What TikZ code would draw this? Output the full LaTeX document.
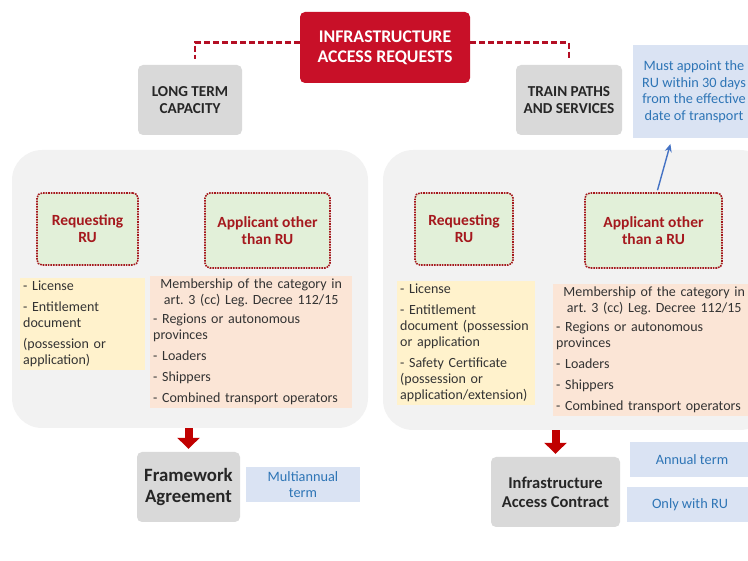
\documentclass[tikz,border=0pt]{standalone}
\usepackage{fontspec}
\setmainfont{Carlito}
\usetikzlibrary{arrows.meta}
\definecolor{titlered}{RGB}{200,16,40}
\definecolor{arrowred}{RGB}{192,0,0}
\definecolor{darkred}{RGB}{165,25,30}
\definecolor{boxgray}{RGB}{217,217,217}
\definecolor{panelgray}{RGB}{242,242,242}
\definecolor{softgreen}{RGB}{226,240,217}
\definecolor{softyellow}{RGB}{255,242,204}
\definecolor{softorange}{RGB}{251,229,214}
\definecolor{softblue}{RGB}{218,227,243}
\definecolor{notetext}{RGB}{46,117,182}
\definecolor{arrowblue}{RGB}{68,114,196}

\begin{document}
\begin{tikzpicture}[x=1pt, y=-1pt,
  graybox/.style={rounded corners=5pt, fill=boxgray, align=center, text=black!85,
    font=\bfseries\fontsize{15.2}{17}\selectfont},
  panel/.style={rounded corners=30pt, fill=panelgray},
  rolebox/.style={rounded corners=5pt, fill=softgreen, draw=darkred, densely dotted,
    line width=1.6pt, align=center, text=darkred, font=\bfseries\fontsize{15.5}{17}\selectfont},
  listbox/.style={anchor=north west, inner sep=3pt, align=left, text=black!80,
    font=\fontsize{14}{16}\selectfont},
  notebox/.style={fill=softblue, align=center, text=notetext,
    font=\fontsize{14.3}{16.5}\selectfont},
  dashline/.style={titlered!90!black, line width=2.4pt, dash pattern=on 6pt off 3pt, shorten >=6pt},
  bigarrow/.style={draw=arrowred, line width=8pt, shorten >=3pt,
    -{Triangle[length=11pt,width=22pt]}},
]
\useasboundingbox (0,0) rectangle (748,561);

\node[fill=titlered, rounded corners=5pt, minimum width=170pt, minimum height=71pt,
  align=center, text=white, font=\bfseries\fontsize{17.8}{20}\selectfont]
  (title) at (385,47.5) {INFRASTRUCTURE\\ACCESS REQUESTS};
\node[graybox, minimum width=104pt, minimum height=70pt] (ltc) at (190,100) {LONG TERM\\CAPACITY};
\node[graybox, minimum width=106pt, minimum height=70pt] (tps) at (569,100) {TRAIN PATHS\\AND SERVICES};
\node[notebox, minimum width=122pt, minimum height=93pt] (note) at (694,91.5)
  {Must appoint the\\RU within 30 days\\from the effective\\date of transport};
\draw[dashline] ([yshift=5pt]title.west) -| ([xshift=5pt]ltc.north);
\draw[dashline] ([yshift=5pt]title.east) -| (tps.north);

% left panel
\node[panel, minimum width=356pt, minimum height=278pt] (lpanel) at (190,289) {};
\node[rolebox, minimum width=101pt, minimum height=72pt] (lreq) at (87.5,229) {Requesting\\RU};
\node[rolebox, minimum width=125pt, minimum height=75pt] (lapp) at (267.5,230.5) {Applicant other\\than RU};
\node[listbox, fill=softyellow, text width=119pt, minimum height=90pt] (lreqdocs) at (20,278)
  {- License\\[5pt]
   - Entitlement\\
   document\\[5pt]
   (possession or\\
   application)};
\node[listbox, fill=softorange, text width=196pt] (lappdocs) at (150,276)
  {\makebox[\linewidth]{Membership of the category in}\\
   \makebox[\linewidth]{art.\ 3 (cc) Leg.\ Decree 112/15}\\[3pt]
   - Regions or autonomous\\
   provinces\\[5pt]
   - Loaders\\[5pt]
   - Shippers\\[5pt]
   - Combined transport operators};

% right panel
\node[panel, minimum width=387pt, minimum height=280pt] (rpanel) at (576.5,290) {};
\node[rolebox, minimum width=98pt, minimum height=72pt] (rreq) at (464,229) {Requesting\\RU};
\node[rolebox, minimum width=137pt, minimum height=75pt] (rapp) at (653.5,230.5) {Applicant other\\than a RU};
\node[listbox, fill=softyellow, text width=132pt] (rreqdocs) at (397,281)
  {- License\\[5pt]
   - Entitlement\\
   document (possession\\
   or application\\[5pt]
   - Safety Certificate\\
   (possession or\\
   application/extension)};
\node[listbox, fill=softorange, text width=196pt] (rappdocs) at (553,284)
  {\makebox[\linewidth]{Membership of the category in}\\
   \makebox[\linewidth]{art.\ 3 (cc) Leg.\ Decree 112/15}\\[3pt]
   - Regions or autonomous\\
   provinces\\[5pt]
   - Loaders\\[5pt]
   - Shippers\\[5pt]
   - Combined transport operators};
\draw[arrowblue, line width=1.4pt, shorten >=6pt, -{Stealth[length=8pt,width=7pt]}]
  ([xshift=4pt,yshift=2pt]rapp.north) -- ([xshift=-22pt]note.south);

% contracts
\node[graybox, minimum width=103pt, minimum height=70pt, font=\bfseries\fontsize{18.8}{21}\selectfont]
  (fw) at (188.5,487) {Framework\\Agreement};
\node[notebox, minimum width=114pt, minimum height=35pt] (multi) at (303,484.5) {Multiannual\\term};
\node[graybox, minimum width=129pt, minimum height=70pt, font=\bfseries\fontsize{16.5}{19}\selectfont]
  (iac) at (555.5,492) {Infrastructure\\Access Contract};
\node[notebox, minimum width=124pt, minimum height=35pt] (annual) at (692,459.5) {Annual term};
\node[notebox, minimum width=126pt, minimum height=35pt] (onlyru) at (690,504.5) {Only with RU};
\draw[bigarrow] (fw.north |- lpanel.south) -- (fw.north);
\draw[bigarrow] (iac.north |- rpanel.south) -- (iac.north);
\end{tikzpicture}
\end{document}
